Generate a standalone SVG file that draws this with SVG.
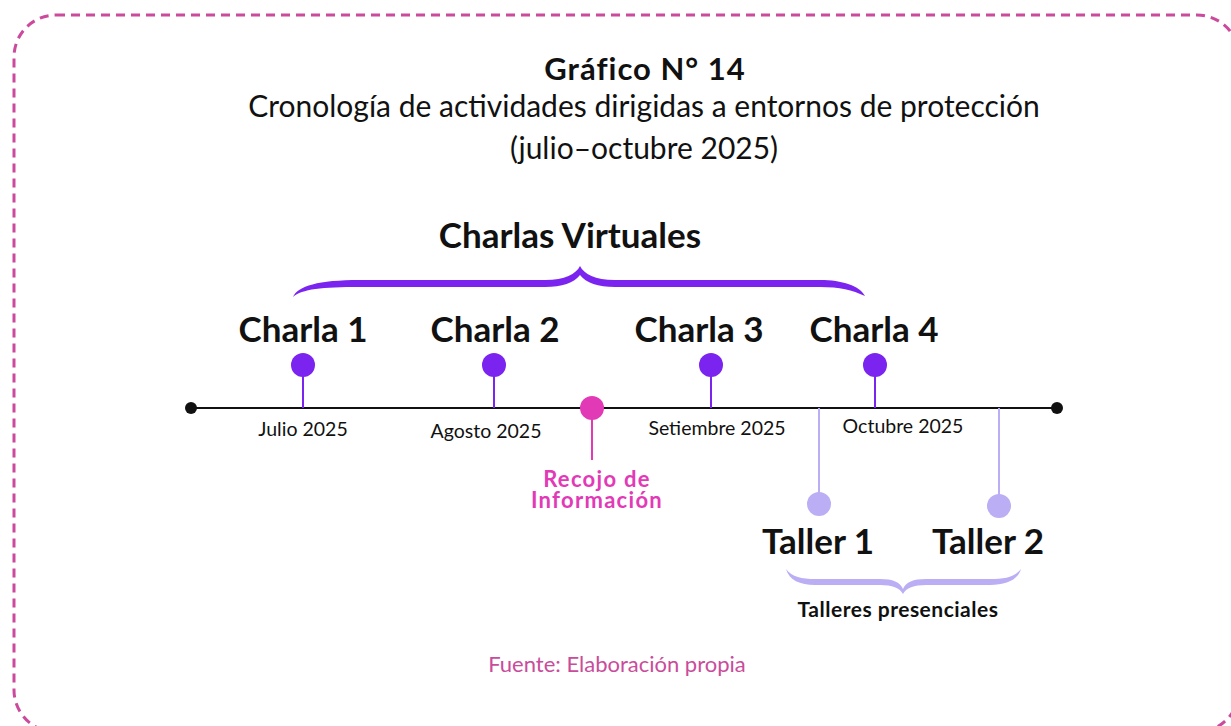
<svg xmlns="http://www.w3.org/2000/svg" width="1231" height="726" viewBox="0 0 1231 726">
<style>
text{font-family:Lato,"Open Sans","Liberation Sans",sans-serif;text-anchor:middle;fill:#111}
.title{font-size:31px;font-weight:bold;letter-spacing:1px}
.sub{font-size:30px}
.big{font-size:35px;font-weight:bold}
.month{font-size:19.5px}
.pink{fill:#E23AB7;font-size:22px;font-weight:bold;letter-spacing:1.3px}
.foot{fill:#C94C9B;font-size:22px}
.small{font-size:21px;font-weight:bold;letter-spacing:0.5px}
.pstem{stroke:#7B24F0;stroke-width:2}
.pdot{fill:#7B24F0}
.lstem{stroke:#BBAEF5;stroke-width:2}
.ldot{fill:#BBAEF5}
</style>
<rect x="14" y="15" width="1225" height="717" rx="42" fill="none" stroke="#CC4A9C" stroke-width="3" stroke-dasharray="9 6"/>
<g id="titles">
<text class="title" x="645" y="80">Gráfico N° 14</text>
<text class="sub" x="644" y="117">Cronología de actividades dirigidas a entornos de protección</text>
<text class="sub" x="644" y="159">(julio–octubre 2025)</text>
</g>
<g id="connectors">
<line x1="191" y1="408" x2="1057" y2="408" stroke="#111" stroke-width="2"/>
<circle cx="191" cy="408" r="6" fill="#111"/>
<circle cx="1057" cy="408" r="6" fill="#111"/>
<line class="pstem" x1="303" y1="365" x2="303" y2="408"/>
<line class="pstem" x1="494" y1="365" x2="494" y2="408"/>
<line class="pstem" x1="711" y1="365" x2="711" y2="408"/>
<line class="pstem" x1="875" y1="365" x2="875" y2="408"/>
<line x1="592" y1="408" x2="592" y2="460" stroke="#E23AB7" stroke-width="2"/>
<line class="lstem" x1="819" y1="408" x2="819" y2="504"/>
<line class="lstem" x1="999" y1="408" x2="999" y2="506"/>
</g>
<g id="charlas-virtuales">
<text class="big" x="570" y="248">Charlas Virtuales</text>
<path fill="#7B24F0" d="M293,297 C298,286 318,280 360,280 L545,280 C565,280 576,274 580,266 C584,274 595,280 615,280 L820,280 C842,280 860,286 865,296 C852,290 840,287 820,287 L615,287 C598,287 586,283 580,275 C574,283 562,287 545,287 L360,287 C322,287 302,289 293,297 Z"/>
</g>
<g id="charla1"><text class="big" x="303" y="342">Charla 1</text><circle class="pdot" cx="303" cy="365" r="12"/><text class="month" x="303" y="436">Julio 2025</text></g>
<g id="charla2"><text class="big" x="495" y="342">Charla 2</text><circle class="pdot" cx="494" cy="365" r="12"/><text class="month" x="486" y="438">Agosto 2025</text></g>
<g id="charla3"><text class="big" x="699" y="342">Charla 3</text><circle class="pdot" cx="711" cy="365" r="12"/><text class="month" x="717" y="435">Setiembre 2025</text></g>
<g id="charla4"><text class="big" x="874" y="342">Charla 4</text><circle class="pdot" cx="875" cy="365" r="12"/><text class="month" x="903" y="433">Octubre 2025</text></g>
<g id="recojo"><circle cx="592" cy="408" r="12" fill="#E23AB7"/><text class="pink" x="597" y="487"><tspan x="597" y="487">Recojo de</tspan><tspan x="597" y="508">Información</tspan></text></g>
<g id="taller1"><circle class="ldot" cx="819" cy="504" r="12"/><text class="big" x="818" y="554">Taller 1</text></g>
<g id="taller2"><circle class="ldot" cx="999" cy="506" r="12"/><text class="big" x="988" y="554">Taller 2</text></g>
<g id="talleres-presenciales">
<path fill="#BBAEF5" d="M786,569 C792,577 802,579 815,579 L880,579 C893,579 900,582 903,589 C906,582 913,579 926,579 L990,579 C1005,579 1015,577 1021,569 C1018,580 1006,585 990,585 L926,585 C914,585 906,588 903,594 C900,588 892,585 880,585 L815,585 C800,585 789,580 786,569 Z"/>
<text class="small" x="898" y="617">Talleres presenciales</text>
</g>
<text class="foot" x="617" y="672">Fuente: Elaboración propia</text>
</svg>
